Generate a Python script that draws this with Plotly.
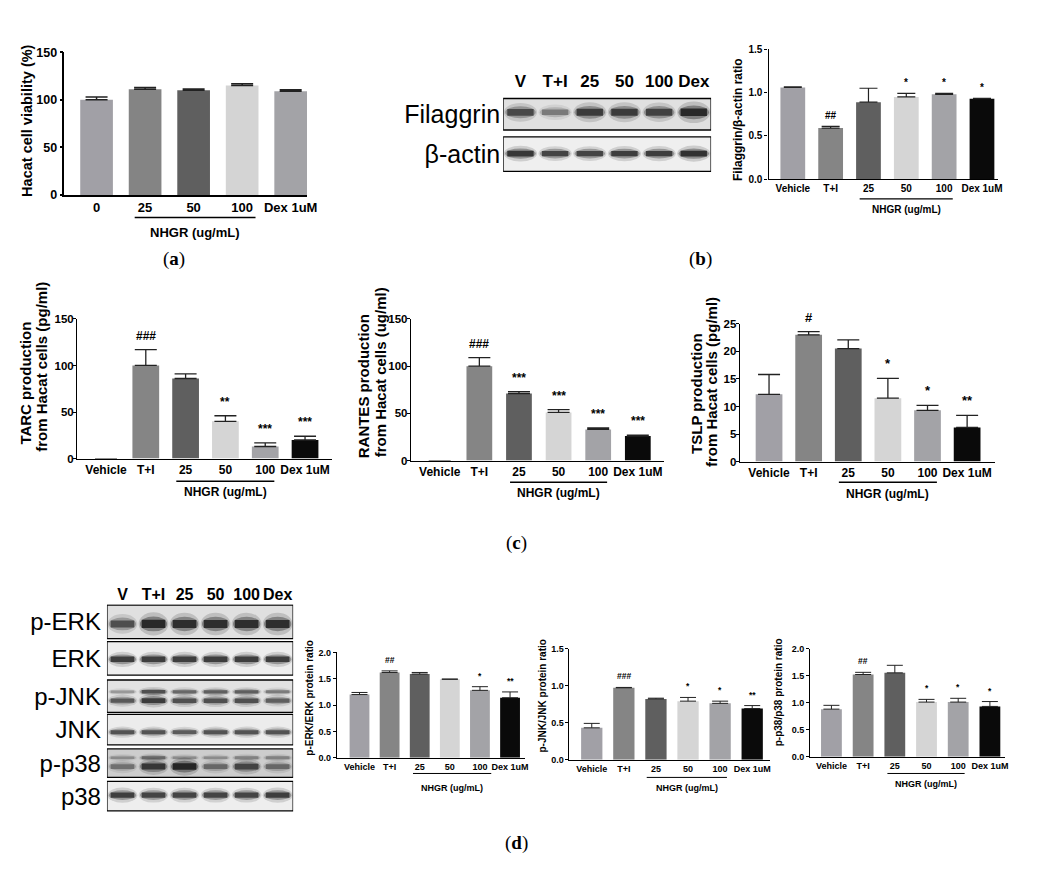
import plotly.graph_objects as go

W, H = 1041, 871
FONT = "Liberation Sans, Arial, sans-serif"
SERIF = "Liberation Serif, DejaVu Serif, serif"

def px(x):
    return x / W

def py(y):
    return 1 - y / H

# ---------------- DATA ----------------
cats_a = ["0", "25", "50", "100", "Dex 1uM"]
viability = [100, 111, 110, 115, 109]
viability_err = [3, 2, 1.5, 2, 1.5]
viability_sig = ["", "", "", "", ""]

cats6 = ["Vehicle", "T+I", "25", "50", "100", "Dex 1uM"]

filaggrin_ratio = [1.06, 0.59, 0.89, 0.95, 0.98, 0.93]
filaggrin_err = [0.005, 0.02, 0.16, 0.04, 0.01, 0.005]
filaggrin_sig = ["", "##", "", "*", "*", "*"]

tarc = [0, 100, 86, 40, 13, 20]
tarc_err = [0, 17, 5, 6, 4, 4]
tarc_sig = ["", "###", "", "**", "***", "***"]

rantes = [0, 100, 71, 51, 33, 26]
rantes_err = [0, 9, 2, 3, 1.5, 1]
rantes_sig = ["", "###", "***", "***", "***", "***"]

tslp = [12.2, 23.0, 20.5, 11.5, 9.3, 6.2]
tslp_err = [3.6, 0.6, 1.6, 3.6, 0.9, 2.2]
tslp_sig = ["", "#", "", "*", "*", "**"]

perk = [1.20, 1.62, 1.59, 1.49, 1.28, 1.14]
perk_err = [0.04, 0.03, 0.03, 0.005, 0.07, 0.11]
perk_sig = ["", "##", "", "", "*", "**"]

pjnk = [0.43, 0.97, 0.82, 0.79, 0.76, 0.69]
pjnk_err = [0.06, 0.005, 0.01, 0.05, 0.03, 0.04]
pjnk_sig = ["", "###", "", "*", "*", "**"]

pp38 = [0.88, 1.52, 1.55, 1.01, 1.01, 0.93]
pp38_err = [0.07, 0.04, 0.14, 0.05, 0.07, 0.09]
pp38_sig = ["", "##", "", "*", "*", "*"]

# blot lanes and band intensities (0..1)
lanes = ["V", "T+I", "25", "50", "100", "Dex"]
filaggrin_band = [0.75, 0.45, 0.85, 0.85, 0.80, 1.00]
bactin_band = [0.90, 0.80, 0.80, 0.85, 0.85, 0.95]
perk_band = [0.70, 1.00, 0.95, 0.95, 0.95, 0.95]
erk_band = [0.85, 0.85, 0.85, 0.85, 0.85, 0.85]
pjnk_band_up = [0.30, 0.70, 0.55, 0.60, 0.60, 0.45]
pjnk_band_lo = [0.65, 0.85, 0.70, 0.70, 0.70, 0.60]
jnk_band = [0.70, 0.70, 0.65, 0.70, 0.70, 0.70]
pp38_band_up = [0.30, 0.50, 0.30, 0.30, 0.35, 0.35]
pp38_band_lo = [0.45, 0.85, 1.00, 0.50, 0.75, 0.50]
p38_band = [0.85, 0.80, 0.80, 0.80, 0.80, 0.85]

# ---------------- STYLE ----------------
colors_a = ["#a1a0a6", "#848484", "#5f5f5f", "#d4d4d4", "#a3a3a7"]
colors6 = ["#a1a0a6", "#858585", "#5f5f5f", "#d5d5d5", "#a3a3a7", "#0a0a0a"]

fig = go.Figure()
layout = dict(
    width=W, height=H, autosize=False,
    margin=dict(l=0, r=0, t=0, b=0),
    paper_bgcolor="white", plot_bgcolor="white",
    showlegend=False,
)
annotations = []
shapes = []


def bar_chart(n, cats, vals, errs, sigs, colors, L):
    xa, ya = f"x{n}", f"y{n}"
    nb = len(cats)
    xs = list(range(nb))
    fig.add_trace(go.Bar(
        x=xs, y=vals, marker=dict(color=colors, line=dict(width=0)),
        width=L["bw"] / L["sp"], xaxis=xa, yaxis=ya,
        error_y=dict(type="data", symmetric=False, array=errs,
                     arrayminus=[0] * nb, color="#222222",
                     thickness=L["et"], width=L["cap"]),
        hoverinfo="skip",
    ))
    r0 = (L["xl"] - L["c0"]) / L["sp"]
    r1 = (L["xr"] - L["c0"]) / L["sp"]
    layout[f"xaxis{n}"] = dict(
        domain=[px(L["xl"]), px(L["xr"])], range=[r0, r1], anchor=ya,
        showline=True, linecolor="black", linewidth=L["lw"], ticks="",
        tickvals=xs, ticktext=cats, showgrid=False, zeroline=False, tickangle=0,
        tickfont=dict(family=FONT, size=L["xfs"], color="black", weight="bold"),
        fixedrange=True,
    )
    layout[f"yaxis{n}"] = dict(
        domain=[py(L["y0"]), py(L["yt"])], range=[0, L["ymax"]], anchor=xa,
        showline=True, linecolor="black", linewidth=L["lw"], ticks="outside",
        ticklen=L["tl"], tickwidth=L["lw"], tickcolor="black", dtick=L["dtick"],
        tickformat=L["fmt"], showgrid=False, zeroline=False,
        ticklabelstandoff=L.get("yso", 0),
        tickfont=dict(family=FONT, size=L["yfs"], color="black", weight="bold"),
        fixedrange=True,
    )
    for i, (v, e, s) in enumerate(zip(vals, errs, sigs)):
        if s:
            annotations.append(dict(
                x=i, y=v + e, xref=xa, yref=ya, text=s, showarrow=False,
                yanchor="bottom", yshift=L["sshift"],
                font=dict(family=FONT, size=L["sfs"], color="black", weight="bold"),
            ))
    for txt, tx, ty in L["titles"]:
        annotations.append(dict(
            x=px(tx), y=py(ty), xref="paper", yref="paper",
            text=txt, textangle=-90, showarrow=False, xanchor="center", yanchor="middle",
            font=dict(family=FONT, size=L["tfs"], color="black", weight="bold"),
        ))
    shapes.append(dict(type="line", xref="paper", yref="paper",
                       x0=px(L["ux0"]), x1=px(L["ux1"]), y0=py(L["uy"]), y1=py(L["uy"]),
                       line=dict(color="black", width=L["lw"])))
    annotations.append(dict(
        x=px((L["ux0"] + L["ux1"]) / 2), y=py(L["ny"]), xref="paper", yref="paper",
        text="NHGR (ug/mL)", showarrow=False, xanchor="center", yanchor="middle",
        font=dict(family=FONT, size=L["xfs"], color="black", weight="bold"),
    ))


# (a) viability
bar_chart(1, cats_a, viability, viability_err, viability_sig, colors_a, dict(
    xl=65, xr=310, c0=97.5, sp=49, bw=33, y0=191, yt=46, ymax=150, dtick=50, fmt="d",
    et=1.5, cap=11, lw=1.5, tl=3, xfs=13, yfs=12.5, sfs=12, sshift=2, tfs=14.5,
    titles=[("Hacat cell viability (%)", 27, 116)],
    ux0=136, ux1=258, uy=214, ny=229))

# (b) filaggrin ratio
bar_chart(2, cats6, filaggrin_ratio, filaggrin_err, filaggrin_sig, colors6, dict(
    xl=776, xr=1008, c0=800.5, sp=38.2, bw=25, y0=175, yt=43, ymax=1.5, dtick=0.5, fmt=".1f",
    et=1.2, cap=9, lw=1.2, tl=3, xfs=10, yfs=10, sfs=10, sshift=3, tfs=12,
    titles=[("Filaggrin/β-actin ratio", 745, 114)],
    ux0=868, ux1=962, uy=195, ny=206))

# (c) TARC
bar_chart(3, cats6, tarc, tarc_err, tarc_sig, colors6, dict(
    xl=78, xr=335, c0=107, sp=40.2, bw=27, y0=459, yt=317, ymax=150, dtick=50, fmt="d",
    et=1.3, cap=11, lw=1.4, tl=3, xfs=12, yfs=11.5, sfs=12, sshift=5, tfs=15, yso=-3,
    titles=[("TARC production", 26, 382), ("from Hacat cells (pg/ml)", 42, 366)],
    ux0=178, ux1=277, uy=482, ny=493))

# (c) RANTES
bar_chart(4, cats6, rantes, rantes_err, rantes_sig, colors6, dict(
    xl=415, xr=670, c0=444, sp=40, bw=26, y0=461, yt=317, ymax=150, dtick=50, fmt="d",
    et=1.3, cap=11, lw=1.4, tl=3, xfs=12, yfs=11.5, sfs=12, sshift=5, tfs=15, yso=-3,
    titles=[("RANTES production", 367, 385), ("from Hacat cells (ug/ml)", 384, 371)],
    ux0=515, ux1=613, uy=483, ny=494))

# (c) TSLP
bar_chart(5, cats6, tslp, tslp_err, tslp_sig, colors6, dict(
    xl=747, xr=1005, c0=776.5, sp=40, bw=27, y0=462, yt=322, ymax=25, dtick=5, fmt="d",
    et=1.3, cap=11, lw=1.4, tl=3, xfs=12, yfs=11.5, sfs=13, sshift=5, tfs=15, yso=-3,
    titles=[("TSLP production", 703, 393), ("from Hacat cells (pg/ml)", 719, 381)],
    ux0=847, ux1=946, uy=483, ny=495))

# (d) p-ERK/ERK
bar_chart(6, cats6, perk, perk_err, perk_sig, colors6, dict(
    xl=340, xr=530, c0=363, sp=30.4, bw=20, y0=763, yt=656, ymax=2.0, dtick=0.5, fmt=".1f",
    et=1.0, cap=8, lw=1.0, tl=3, xfs=9, yfs=9, sfs=8.5, sshift=4, tfs=10,
    titles=[("p-ERK/ERK protein ratio", 313, 702)],
    ux0=417, ux1=496, uy=779, ny=794))

# (d) p-JNK/JNK
bar_chart(7, cats6, pjnk, pjnk_err, pjnk_sig, colors6, dict(
    xl=575, xr=777, c0=597.5, sp=32.4, bw=21.5, y0=765, yt=652, ymax=1.5, dtick=0.5, fmt=".1f",
    et=1.0, cap=8, lw=1.0, tl=3, xfs=9, yfs=9, sfs=8.5, sshift=4, tfs=10,
    titles=[("p-JNK/JNK protein ratio", 548, 700)],
    ux0=653, ux1=734, uy=783, ny=794))

# (d) p-p38/p38
bar_chart(8, cats6, pp38, pp38_err, pp38_sig, colors6, dict(
    xl=818, xr=1015, c0=839.5, sp=32, bw=21, y0=762, yt=652, ymax=2.0, dtick=0.5, fmt=".1f",
    et=1.0, cap=8, lw=1.0, tl=3, xfs=9, yfs=9, sfs=8.5, sshift=4, tfs=10,
    titles=[("p-p38/p38 protein ratio", 786, 696)],
    ux0=896, ux1=974, uy=779, ny=790))


# ---------------- BLOTS ----------------
def band(xa, ya, lane, yc, h, inten):
    out = []
    c = lane + 0.5
    for kind, wf, hf, op in [("circle", 0.96, 2.8, 0.16), ("circle", 0.88, 1.8, 0.35),
                             ("rect", 0.76, 1.0, 0.75)]:
        out.append(dict(type=kind, xref=xa, yref=ya, x0=c - wf / 2, x1=c + wf / 2,
                        y0=yc - h * hf / 2, y1=yc + h * hf / 2,
                        fillcolor="#0c0c0c", opacity=min(1, op * inten),
                        line=dict(width=0), layer="above"))
    return out


def blot(n, xl, xr, ytop, ybot, rows, lab_fs, lane_fs, standoff):
    xa, ya = f"x{n}", f"y{n}"
    tickv, tickt = [], []
    for name, rt, rb, bg, bands in rows:
        shapes.append(dict(type="rect", xref=xa, yref=ya, x0=0, x1=6, y0=rt, y1=rb,
                           fillcolor=bg, line=dict(color="black", width=1.3), layer="above"))
        for yc, h, ints in bands:
            for i, v in enumerate(ints):
                shapes.extend(band(xa, ya, i, yc, h * (0.6 + 0.6 * v), v))
        tickv.append((rt + rb) / 2)
        tickt.append(name)
    fig.add_trace(go.Scatter(x=[0, 6], y=[ytop, ybot], xaxis=xa, yaxis=ya, mode="markers",
                             marker=dict(opacity=0), hoverinfo="skip"))
    layout[f"xaxis{n}"] = dict(
        domain=[px(xl), px(xr)], range=[0, 6], anchor=ya, side="top", tickangle=0,
        tickvals=[i + 0.5 for i in range(6)], ticktext=lanes, ticks="",
        showline=False, showgrid=False, zeroline=False, fixedrange=True,
        tickfont=dict(family=FONT, size=lane_fs, color="black", weight="bold"),
    )
    layout[f"yaxis{n}"] = dict(
        domain=[py(ybot), py(ytop)], range=[ybot, ytop], anchor=xa,
        tickvals=tickv, ticktext=tickt, ticks="", showline=False, showgrid=False,
        zeroline=False, fixedrange=True, ticklabelstandoff=standoff,
        tickfont=dict(family=FONT, size=lab_fs, color="black"),
    )


blot(9, 508, 718, 86, 170, [
    ("Filaggrin", 93, 125, "#e0e0e0", [(107, 6.5, filaggrin_band)]),
    ("β-actin", 132, 167, "#efefef", [(149, 5, bactin_band)]),
], lab_fs=25, lane_fs=17, standoff=2)

blot(10, 108, 296, 607, 820, [
    ("p-ERK", 608, 642, "#e0e0e0", [(627, 7, perk_band)]),
    ("ERK", 645, 679, "#eeeeee", [(663, 5, erk_band)]),
    ("p-JNK", 684, 717, "#e2e2e2", [(696, 3.5, pjnk_band_up), (705, 4.5, pjnk_band_lo)]),
    ("JNK", 719, 750, "#ececec", [(737, 4, jnk_band)]),
    ("p-p38", 754, 783, "#cdcdcd", [(763, 3.5, pp38_band_up), (772, 5.5, pp38_band_lo)]),
    ("p38", 787, 817, "#eeeeee", [(801, 5, p38_band)]),
], lab_fs=24, lane_fs=16, standoff=5)

# panel letters
for lab, x, y in [("a", 176, 256), ("b", 707, 256), ("c", 522, 545), ("d", 522, 850)]:
    annotations.append(dict(x=px(x), y=py(y), xref="paper", yref="paper",
                            text=f"(<b>{lab}</b>)", showarrow=False,
                            xanchor="center", yanchor="middle",
                            font=dict(family=SERIF, size=19, color="black")))

layout["annotations"] = annotations
layout["shapes"] = shapes
fig.update_layout(**layout)

fig.write_html("out.html", config={"displayModeBar": False},
               post_script="document.body.style.margin='0px';document.body.style.overflow='hidden';")
